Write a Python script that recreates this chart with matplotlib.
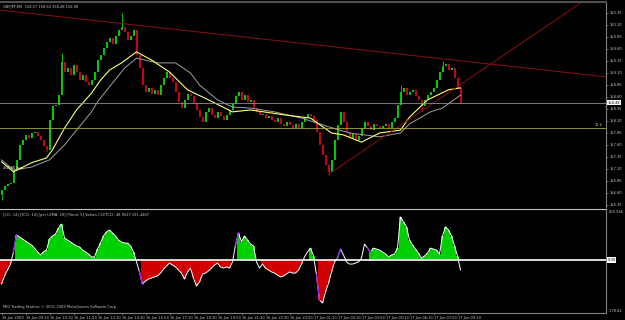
import numpy as np
import matplotlib.pyplot as plt

# GBPJPY M5 chart
# one entry per bar (bar index on the x axis)
CLOSES = [
    156.66, 156.75, 156.79, 156.81, 157.08, 157.29, 157.60, 157.70, 157.81, 157.75,
    157.85, 157.87, 157.79, 157.70, 157.58, 157.50, 158.12, 158.41, 158.43, 158.64,
    159.33, 159.12, 159.20, 159.06, 159.27, 159.12, 158.95, 159.06, 158.91, 158.85,
    158.95, 159.12, 159.37, 159.48, 159.62, 159.75, 159.83, 159.70, 159.87, 160.00,
    160.05, 159.95, 159.79, 159.87, 160.00, 159.48, 159.20, 158.85, 158.70, 158.79,
    158.66, 158.75, 158.64, 158.85, 159.00, 159.12, 159.00, 158.91, 158.70, 158.50,
    158.37, 158.54, 158.66, 158.62, 158.48, 158.33, 158.18, 158.08, 158.29, 158.37,
    158.23, 158.16, 158.29, 158.20, 158.12, 158.23, 158.33, 158.45, 158.62, 158.70,
    158.54, 158.64, 158.50, 158.54, 158.37, 158.29, 158.23, 158.25, 158.16, 158.20,
    158.12, 158.08, 158.16, 158.04, 158.00, 158.08, 158.02, 157.95, 158.04, 157.95,
    158.08, 158.16, 158.25, 158.20, 158.12, 157.87, 157.60, 157.39, 157.18, 157.04,
    157.29, 157.70, 158.02, 158.29, 158.08, 157.87, 157.75, 157.83, 157.70, 157.79,
    157.95, 158.08, 158.00, 157.91, 158.04, 158.00, 157.95, 158.00, 158.04, 157.95,
    158.08, 158.16, 158.43, 158.70, 158.79, 158.64, 158.70, 158.75, 158.62, 158.54,
    158.41, 158.54, 158.64, 158.70, 158.79, 158.95, 159.12, 159.25, 159.29, 159.16,
    159.20, 159.00, 158.79, 158.48,
]
OPEN_FIRST = 156.55
SPIKE_HIGHS = {20: 159.52, 40: 160.35, 133: 158.85, 147: 159.35}
SPIKE_LOWS = {0: 156.45, 15: 157.45, 109: 156.95, 140: 158.30}

# moving averages (yellow = fast, gray = slow)
MA_FAST_BARS = [0, 4, 10, 15, 17, 21, 25, 30, 33, 36, 40, 45, 50, 56, 62, 69, 77,
                83, 94, 103, 110, 114, 120, 126, 133, 136, 142, 149, 153]
MA_FAST = [157.25, 157.04, 157.23, 157.33, 157.50, 157.95, 158.33, 158.68, 158.95,
           159.16, 159.31, 159.54, 159.37, 159.12, 158.75, 158.54, 158.29, 158.33,
           158.23, 158.16, 157.85, 157.81, 157.66, 157.85, 157.91, 158.18, 158.54,
           158.75, 158.79]
MA_SLOW_BARS = [0, 4, 10, 16, 21, 25, 30, 32, 37, 41, 45, 52, 58, 63, 66, 72, 77,
                83, 91, 100, 109, 116, 126, 133, 136, 143, 147, 153]
MA_SLOW = [157.29, 157.08, 157.14, 157.29, 157.60, 157.91, 158.29, 158.50, 158.89,
           159.20, 159.41, 159.31, 159.31, 159.10, 158.85, 158.54, 158.39, 158.37,
           158.29, 158.16, 157.98, 157.85, 157.77, 157.85, 158.04, 158.29, 158.37,
           158.64]

# drawn objects
TREND_DOWN = [(-0.5, 160.41), (201.5, 159.02)]
TREND_UP = [(109, 156.99), (193.5, 160.58)]
BID = 158.48
LEVEL = 157.95

# CCI / TCCI sub window
CCI = [
    -101, -67, -42, -17, 34, 105, 97, 88, 80, 71,
    63, 50, 34, 21, 34, 42, 88, 101, 109, 134,
    151, 92, 84, 76, 67, 59, 55, 42, 34, 25,
    13, 13, 46, 71, 101, 118, 126, 113, 101, 84,
    76, 71, 71, 59, 34, -8, -50, -101, -88, -80,
    -76, -71, -67, -55, -38, -25, -13, -21, -29, -42,
    -55, -80, -50, -34, -76, -109, -92, -59, -55, -46,
    -34, -21, -13, -29, -34, -29, -34, -8, 63, 113,
    76, 101, 84, 67, 59, -8, -34, -17, -34, -42,
    -50, -55, -63, -71, -67, -59, -50, -55, -55, -42,
    -17, 13, 34, 50, 17, -63, -168, -181, -134, -97,
    -50, -8, 8, 46, 21, -8, -17, -17, -13, -8,
    8, 67, 50, 34, 50, 46, 42, 34, 25, 13,
    21, 25, 50, 181, 160, 139, 84, 63, 46, 29,
    8, 17, 29, 50, 46, 42, 25, 101, 139, 126,
    101, 59, 17, -42,
]
CCI_FLAT = [4, 45, 46, 77, 78, 85, 86, 101, 102, 105, 112, 113, 114, 115, 116,
            117, 118, 119, 120, 121, 122, 153]
CCI_TURNS = [5, 47, 79, 106, 113, 123]

PRICE_TICKS = [156.35, 156.60, 156.85, 157.10, 157.35, 157.60, 157.85, 158.10,
               158.35, 158.60, 158.85, 159.10, 159.35, 159.60, 159.85, 160.10, 160.35]
TIME_LABELS = ["16 Jun 2009", "16 Jun 09:10", "16 Jun 10:30", "16 Jun 11:50",
               "16 Jun 13:10", "16 Jun 14:30", "16 Jun 15:50", "16 Jun 17:10",
               "16 Jun 18:30", "16 Jun 19:50", "16 Jun 21:10", "16 Jun 22:30",
               "16 Jun 23:50", "17 Jun 01:10", "17 Jun 02:30", "17 Jun 03:50",
               "17 Jun 05:10", "17 Jun 06:30", "17 Jun 07:50", "17 Jun 09:10"]
TIME_STEP = 8

UP_COLOR = '#00e000'
DOWN_COLOR = '#e00020'
TEXT_COLOR = '#c8c8c8'
AXIS_COLOR = '#808080'
FS = 2.6

W, H = 625, 320
fig = plt.figure(figsize=(W / 100, H / 100), dpi=100, facecolor='black')


def px_axes(left, top, right, bottom):
    return fig.add_axes([left / W, 1 - bottom / H, (right - left) / W, (bottom - top) / H],
                        facecolor='black')


ax = px_axes(0, 2, 606, 207)
ax2 = px_axes(0, 209, 606, 313)

# ---- price window ----
closes = np.array(CLOSES)
idx = np.arange(len(closes))
opens = np.r_[OPEN_FIRST, closes[:-1]]
up = closes >= opens
cols = np.where(up, UP_COLOR, DOWN_COLOR)

for i, h in SPIKE_HIGHS.items():
    ax.vlines(i, max(opens[i], closes[i]), h, color=cols[i], lw=0.6)
for i, l in SPIKE_LOWS.items():
    ax.vlines(i, l, min(opens[i], closes[i]), color=cols[i], lw=0.6)
ax.vlines(idx, np.minimum(opens, closes), np.maximum(opens, closes), colors=cols, lw=1.3)

ax.plot(MA_SLOW_BARS, MA_SLOW, color='#a0a0a0', lw=0.7)
ax.plot(MA_FAST_BARS, MA_FAST, color='#ffff70', lw=0.8)

ax.plot(*zip(*TREND_DOWN), color='#8b1010', lw=0.7)
ax.plot(*zip(*TREND_UP), color='#8b1010', lw=0.7)
ax.axhline(BID, color='#909090', lw=0.6)
ax.axhline(LEVEL, color='#a8a840', lw=0.6)
ax.text(0.995, LEVEL + 0.02, '11.6', transform=ax.get_yaxis_transform(),
        ha='right', va='bottom', fontsize=FS, color='#c8c840')
ax.text(0.5, 157.12, '#1585 buy', fontsize=FS, color='white', va='center')

ax.text(0.005, 0.985, 'GBPJPY,M5  158.57 158.64 158.48 158.48', transform=ax.transAxes,
        ha='left', va='top', fontsize=FS, color=TEXT_COLOR)

ax.set_xlim(-0.5, 201.5)
ax.set_ylim(156.308, 160.579)
ax.yaxis.tick_right()
ax.set_yticks(PRICE_TICKS)
ax.set_yticklabels([f'{p:.2f}' for p in PRICE_TICKS])
ax.tick_params(axis='y', colors=AXIS_COLOR, labelcolor=TEXT_COLOR, labelsize=FS,
               length=1.5, width=0.5, pad=1)
ax.set_xticks([])
for s in ('left', 'bottom'):
    ax.spines[s].set_visible(False)
ax.spines['right'].set_color(AXIS_COLOR)
ax.spines['top'].set_color('#505050')
ax.spines['top'].set_linewidth(1.5)

ax.annotate(f'{BID:.2f}', xy=(1, BID), xycoords=ax.get_yaxis_transform(),
            xytext=(1.2, 0), textcoords='offset points', ha='left', va='center',
            fontsize=FS, color='black',
            bbox=dict(boxstyle='square,pad=0.15', fc='white', ec='none'))

# ---- CCI window ----
cci = np.array(CCI, dtype=float)
fill = np.ones(len(cci), bool)
fill[CCI_FLAT] = False
hist_cols = np.where(cci > 0, '#00d000', '#d00000')
ax2.bar(idx[fill], cci[fill], width=0.72, color=hist_cols[fill], linewidth=0)
ax2.axhline(0, color='white', lw=1.2)
ax2.plot(idx, cci, color='white', lw=0.7)
for i in CCI_TURNS:
    ax2.plot([i - 1, i], cci[i - 1:i + 1], color='#8a2be2', lw=1.0)

ax2.set_xlim(-0.5, 201.5)
ax2.set_ylim(-222.6, 214.2)
ax2.set_yticks([])
tick_bars = list(range(0, TIME_STEP * len(TIME_LABELS), TIME_STEP))
ax2.set_xticks(tick_bars)
ax2.set_xticklabels(TIME_LABELS, ha='left')
ax2.tick_params(axis='x', colors=AXIS_COLOR, labelcolor=TEXT_COLOR, labelsize=FS,
                length=1.5, width=0.5, pad=0.5)
ax2.spines['left'].set_visible(False)
ax2.spines['top'].set_color('#c0c0c0')
ax2.spines['right'].set_color(AXIS_COLOR)
ax2.spines['bottom'].set_color(AXIS_COLOR)

ax2.text(0.005, 0.965, '[CCI: 14] [TCCI: 14] [per LSMA: 20] [Trend: 5] Values CCI/TCCI: 48.9527 191.4467',
         transform=ax2.transAxes, ha='left', va='top', fontsize=FS, color=TEXT_COLOR)
ax2.text(0.005, 0.04, 'MIG Trading Station, \u00a9 2001-2009 MetaQuotes Software Corp.',
         transform=ax2.transAxes, ha='left', va='bottom', fontsize=FS, color=TEXT_COLOR)
ax2.text(1.004, 0.97, '205.946', transform=ax2.transAxes, ha='left', va='center',
         fontsize=FS, color=TEXT_COLOR)
ax2.text(1.004, 0.02, '-178.82', transform=ax2.transAxes, ha='left', va='center',
         fontsize=FS, color=TEXT_COLOR)
ax2.annotate('0.00', xy=(1, 0), xycoords=ax2.get_yaxis_transform(),
             xytext=(1.2, 0), textcoords='offset points', ha='left', va='center',
             fontsize=FS, color='black',
             bbox=dict(boxstyle='square,pad=0.15', fc='white', ec='none'))

fig.savefig('out.png', dpi=100, facecolor='black')
